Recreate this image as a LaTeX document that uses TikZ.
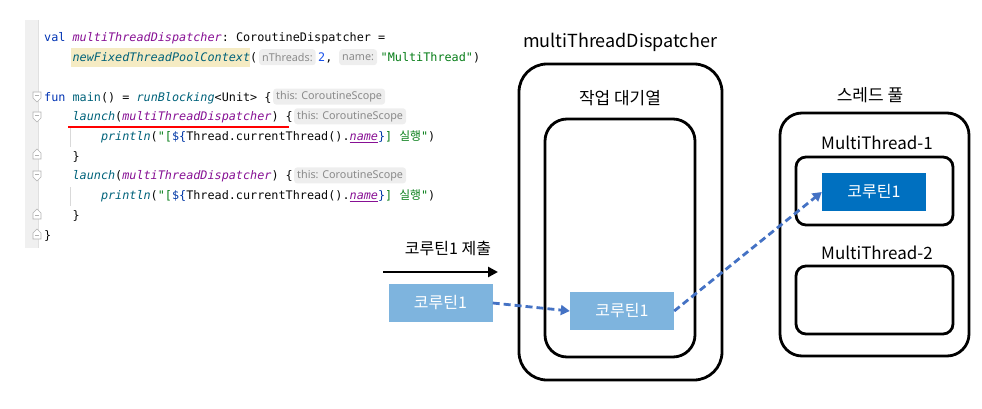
\documentclass[tikz,border=0pt]{standalone}
\usepackage{fontspec}
\setmainfont{Noto Sans CJK KR}
\setmonofont{DejaVu Sans Mono}
\newfontfamily\krf{Noto Sans CJK KR}
\newfontfamily\hintf{Noto Sans}
\usetikzlibrary{arrows.meta}
\definecolor{kwc}{HTML}{0033B3}
\definecolor{prc}{HTML}{871094}
\definecolor{fnc}{HTML}{00627A}
\definecolor{stc}{HTML}{067D17}
\definecolor{nmc}{HTML}{1750EB}
\definecolor{tpc}{HTML}{0037A6}
\definecolor{txc}{HTML}{080808}
\definecolor{hlc}{HTML}{F5EBC3}
\definecolor{hbg}{HTML}{EEEEEE}
\definecolor{hfg}{HTML}{8A8A8A}
\definecolor{gut}{HTML}{F0F0F0}
\definecolor{lblue}{HTML}{7EB4DE}
\definecolor{dblue}{HTML}{0070C0}
\definecolor{arc}{HTML}{4472C4}
\newcommand\KW[1]{\textcolor{kwc}{#1}}
\newcommand\PR[1]{\textcolor{prc}{\itshape #1}}
\newcommand\FN[1]{\textcolor{fnc}{\itshape #1}}
\newcommand\FD[1]{\textcolor{fnc}{#1}}
\newcommand\ST[1]{\textcolor{stc}{#1}}
\newcommand\TP[1]{\textcolor{tpc}{#1}}
\newcommand\PRLN{\FN{println}(\ST{"[}\TP{\$\{}Thread.currentThread().\textcolor{prc}{\itshape\underline{name}}\TP{\}}\ST{] {\krf 실행}"})}
\begin{document}
\begin{tikzpicture}[x=1pt,y=-1pt,
  code/.style={inner sep=0pt,anchor=base west,font=\fontsize{11.8}{14}\ttfamily,text=txc},
  hint/.style={fill=hbg,rounded corners=3pt,text=hfg,font=\fontsize{10.8}{12}\hintf,inner xsep=3pt,inner ysep=0pt,minimum height=16pt,anchor=west},
  box/.style={draw=black,line width=2.8pt,rounded corners=#1},
  box/.default=22pt,
  coro/.style={fill=lblue,text=white,font=\fontsize{16}{18}\krf,minimum width=104pt,minimum height=38pt,inner sep=0pt},
  lbl/.style={font=\fontsize{17}{20}\krf,text=black,inner sep=0pt},
  darr/.style={draw=arc,line width=2.8pt,dash pattern=on 7pt off 4pt,-{Triangle[length=9pt,width=10pt]}},
  foldo/.style={draw=black!30,fill=white,line width=0.7pt},
]
\useasboundingbox (0,0) rectangle (982,409);
% gutter
\fill[gut] (25,20) rectangle (38,248);
\draw[black!12,line width=0.6pt] (38,20) -- (38,248);
% indent guides
\draw[black!15,line width=0.7pt] (70,128) -- (70,147);
\draw[black!15,line width=0.7pt] (70,187) -- (70,206);
% fold markers (open)
\foreach \y in {97,117,176}{
  \draw[foldo] (33,\y-5) -- (41,\y-5) -- (41,\y+1) -- (37,\y+5) -- (33,\y+1) -- cycle;
  \draw[black!30,line width=0.6pt] (35,\y-1.5) -- (39,\y-1.5);}
% fold markers (close)
\foreach \y in {154,214,234}{
  \draw[foldo] (33,\y+5) -- (41,\y+5) -- (41,\y-1) -- (37,\y-5) -- (33,\y-1) -- cycle;
  \draw[black!30,line width=0.6pt] (35,\y+1.5) -- (39,\y+1.5);}
% highlight
\fill[hlc] (71,48) rectangle (250,67);
% line 1
\node[code] (c1) at (44,42) {\KW{val} \PR{multiThreadDispatcher}: CoroutineDispatcher =};
% line 2
\node[code] (c2a) at (72.4,61.7) {\FN{newFixedThreadPoolContext}(};
\node[hint] (h2a) at (259,57.2) {nThreads:};
\node[code] (c2b) at (318,61.7) {\textcolor{nmc}{2},};
\node[hint] (h2b) at (339,57.2) {name:};
\node[code] (c2c) at (380.5,61.7) {\ST{"MultiThread"})};
% line 4
\node[code] (c4) at (44,101.1) {\KW{fun} \FD{main}() = \FN{runBlocking}<Unit> \{};
\node[hint] (h4) at (273,96.6) {this: CoroutineScope};
% line 5
\node[code] (c5) at (72.4,120.8) {\FN{launch}(\PR{multiThreadDispatcher}) \{};
\node[hint] (h5) at (294,116.3) {this: CoroutineScope};
\draw[red,line width=2.2pt] (68,127) -- (289,127);
% line 6
\node[code] (c6) at (100.8,140.5) {\PRLN};
% line 7
\node[code] (c7) at (72.4,160.2) {\}};
% line 8
\node[code] (c8) at (72.4,179.9) {\FN{launch}(\PR{multiThreadDispatcher}) \{};
\node[hint] (h8) at (294,175.4) {this: CoroutineScope};
% line 9
\node[code] (c9) at (100.8,199.6) {\PRLN};
% line 10
\node[code] (c10) at (72.4,219.3) {\}};
% line 11
\node[code] (c11) at (44,239) {\}};

% dispatcher
\node[lbl,font=\fontsize{18}{20}\krf] (tdisp) at (620,42) {multiThreadDispatcher};
\node[box=28pt,minimum width=203pt,minimum height=316pt] (disp) at (620.5,222) {};
\node[lbl] (tq) at (620,98) {작업 대기열};
\node[box=22pt,minimum width=150pt,minimum height=238pt] (queue) at (620,238) {};
\node[coro] (qc) at (622,311) {코루틴1};

% submit
\node[lbl,font=\fontsize{16}{18}\krf] (tsub) at (448,248) {코루틴1 제출};
\coordinate (s1) at (383,272);
\coordinate (s2) at (498,272);
\draw[line width=2.8pt,-{Triangle[length=10pt,width=10pt]}] (s1) -- (s2);
\node[coro] (lc) at (440.5,303) {코루틴1};

% thread pool
\node[lbl] (tpool) at (870,95) {스레드 풀};
\node[box=22pt,minimum width=189pt,minimum height=243pt] (pool) at (874.5,234.5) {};
\node[lbl] (tt1) at (877,143) {MultiThread-1};
\node[box=10pt,minimum width=157pt,minimum height=68pt] (t1) at (874.5,191) {};
\node[lbl] (tt2) at (877,253) {MultiThread-2};
\node[box=10pt,minimum width=157pt,minimum height=68pt] (t2) at (874.5,300) {};
\node[coro,fill=dblue] (dc) at (874,192) {코루틴1};

% arrows
\draw[darr] (lc.east) -- (qc.west);
\draw[darr] (qc.east) -- (dc.west);
\end{tikzpicture}
\end{document}
